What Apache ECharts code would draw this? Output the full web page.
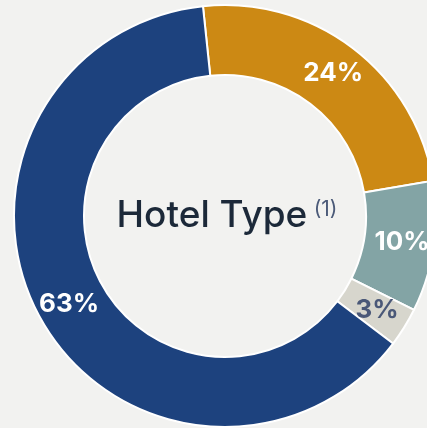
<!DOCTYPE html>
<html>
<head>
<meta charset="utf-8">
<script src="https://cdn.jsdelivr.net/npm/echarts@6/dist/echarts.min.js"></script>
<style>
  html, body { margin: 0; padding: 0; background: #f2f2f0; }
  #chart { width: 427px; height: 428px; }
</style>
</head>
<body>
<div id="chart"></div>
<script>
// 酒店类型占比
const categories = ['Type A', 'Type B', 'Type C', 'Type D'];
const shares = [24, 10, 3, 63];
const colors = ['#cc8914', '#83a4a5', '#d7d6cd', '#1d427e'];
const labelColors = ['#ffffff', '#ffffff', '#4a5878', '#ffffff'];

const chart = echarts.init(document.getElementById('chart'));

const option = {
  backgroundColor: '#f2f2f0',
  animation: false,
  graphic: [
    {
      type: 'text',
      x: 227,
      y: 216,
      style: {
        text: '{a|Hotel Type} {b|(1)}',
        align: 'center',
        verticalAlign: 'middle',
        rich: {
          a: { fontFamily: 'Inter', fontSize: 37, fontWeight: 500, fill: '#1c2939', color: '#1c2939' },
          b: { fontFamily: 'Inter', fontSize: 21, fill: '#4b5a78', color: '#4b5a78', padding: [0, 0, 12, 3] },
        },
      },
    },
  ],
  series: [
    {
      type: 'pie',
      center: [225, 216],
      radius: [141, 211],
      startAngle: 96,
      clockwise: true,
      avoidLabelOverlap: false,
      itemStyle: {
        borderColor: '#ffffff',
        borderWidth: 2,
      },
      label: {
        show: true,
        position: 'inside',
        formatter: '{c}%',
        fontFamily: 'Inter',
        fontWeight: 'bold',
        fontSize: 26,
      },
      labelLine: { show: false },
      data: categories.map((name, i) => ({
        name,
        value: shares[i],
        itemStyle: { color: colors[i] },
        label: { color: labelColors[i] },
      })),
    },
  ],
};

chart.setOption(option);
</script>
</body>
</html>
